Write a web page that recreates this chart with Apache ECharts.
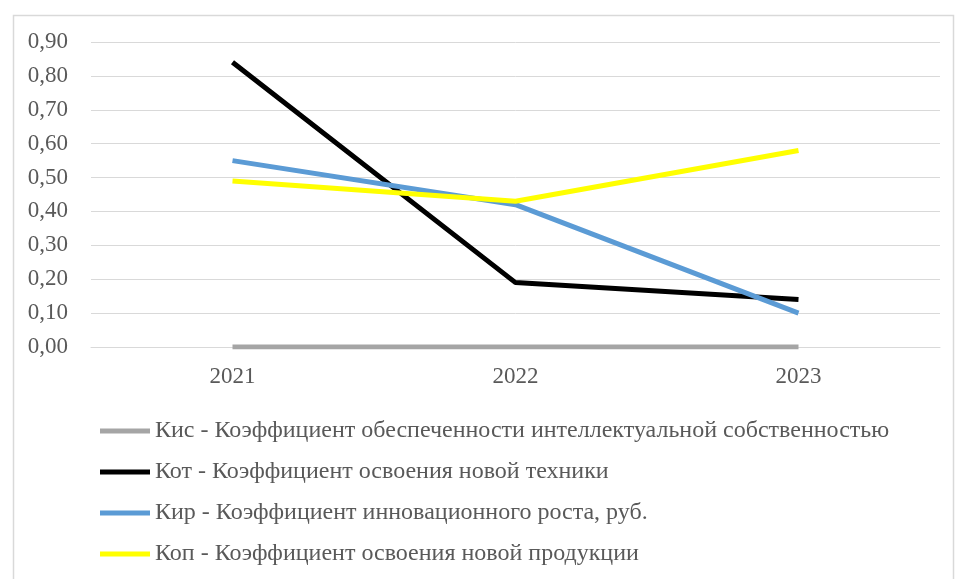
<!DOCTYPE html>
<html><head><meta charset="utf-8">
<script src="https://cdn.jsdelivr.net/npm/echarts@6/dist/echarts.min.js"></script>
<style>html,body{margin:0;padding:0;background:#fff}#c{width:956px;height:579px}</style>
</head><body><div id="c"></div>
<script>
const categories = ['2021', '2022', '2023'];
const seriesNames = [
  'Кис - Коэффициент обеспеченности интеллектуальной собственностью',
  'Кот - Коэффициент освоения новой техники',
  'Кир - Коэффициент инновационного роста, руб.',
  'Коп - Коэффициент освоения новой продукции'
];
const kis = [0, 0, 0];
const kot = [0.84, 0.19, 0.14];
const kir = [0.55, 0.42, 0.10];
const kop = [0.49, 0.43, 0.58];
const yTicks = { min: 0, max: 0.9, interval: 0.1 };

const colors = ['#A5A5A5', '#000000', '#5B9BD5', '#FFFF00'];
const values = [kis, kot, kir, kop];
const font = 'Liberation Serif';

const chart = echarts.init(document.getElementById('c'), null, { renderer: 'canvas' });
chart.setOption({
  animation: false,
  backgroundColor: '#fff',
  graphic: [{
    type: 'rect', left: 11, top: 13, z: -1,
    shape: { width: 940, height: 580 },
    style: { fill: 'none', stroke: '#d9d9d9', lineWidth: 1.5 }
  }],
  grid: { left: 91, right: 16, top: 42, bottom: 232 },
  xAxis: {
    type: 'category', data: categories, boundaryGap: true,
    axisLine: { show: true, lineStyle: { color: '#d9d9d9', width: 1 } },
    axisTick: { show: false },
    axisLabel: { color: '#595959', fontFamily: font, fontSize: 23, margin: 18 }
  },
  yAxis: {
    type: 'value', min: yTicks.min, max: yTicks.max, interval: yTicks.interval,
    axisLine: { show: false }, axisTick: { show: false },
    splitLine: { lineStyle: { color: '#d9d9d9', width: 1 } },
    axisLabel: {
      color: '#595959', fontFamily: font, fontSize: 23, margin: 23,
      formatter: v => v.toFixed(2).replace('.', ',')
    }
  },
  legend: {
    orient: 'vertical', left: 95, top: 414,
    itemWidth: 50, itemHeight: 5, itemGap: 17, icon: 'rect',
    textStyle: { color: '#595959', fontFamily: font, fontSize: 24, lineHeight: 24, padding: [0, 0, 0, 0] },
    data: seriesNames
  },
  series: seriesNames.map((n, i) => ({
    name: n, type: 'line', data: values[i], showSymbol: false, symbol: 'none',
    lineStyle: { color: colors[i], width: 5 }, itemStyle: { color: colors[i] },
    z: 2 + i
  }))
});
</script></body></html>
